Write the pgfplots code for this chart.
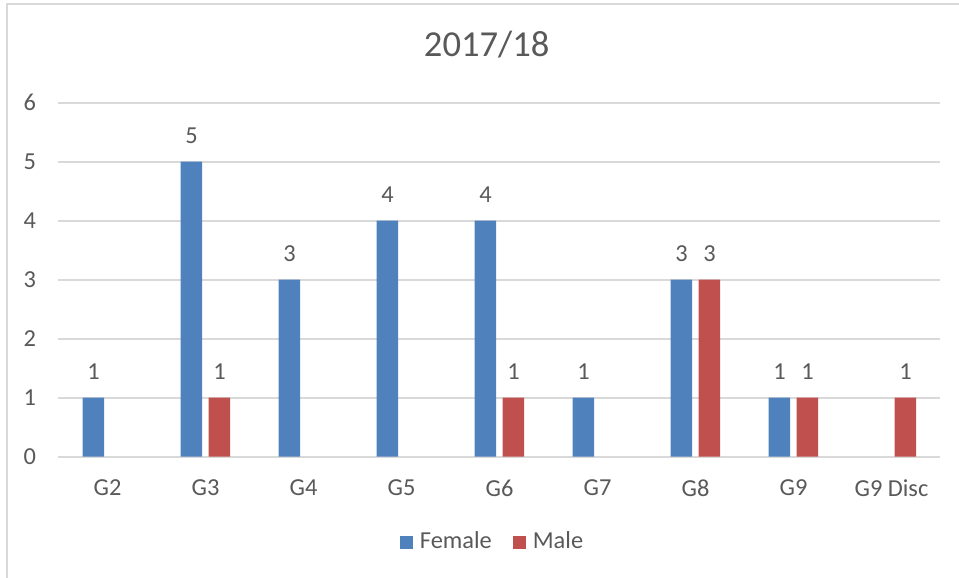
\documentclass[border=0pt]{standalone}
\usepackage{fontspec}
\setmainfont{Carlito}
\usepackage{pgfplots}
\pgfplotsset{compat=1.18}
\definecolor{fblue}{HTML}{4F81BD}
\definecolor{mred}{HTML}{C0504D}
\definecolor{textgray}{HTML}{595959}
\definecolor{gridgray}{HTML}{D9D9D9}
\begin{document}
\begin{tikzpicture}
\path[use as bounding box] (0,0) rectangle (479.5pt,289pt);
\draw[gridgray, line width=1pt] (3.5pt,0) -- (3.5pt,287pt) -- (479.5pt,287pt);
\node[anchor=base, text=textgray, font=\fontsize{18.3}{22}\selectfont] at (243.35pt,260.65pt) {2017/18};
\begin{axis}[
  at={(29.25pt,60.65pt)}, anchor=south west,
  scale only axis, width=441pt, height=177pt,
  xmin=-0.5, xmax=8.5, ymin=0, ymax=6,
  ytick={0,1,2,3,4,5,6},
  xtick={0,1,2,3,4,5,6,7,8},
  xticklabels={G2,G3,G4,G5,G6,G7,G8,G9,G9 Disc},
  axis line style={draw=none},
  major tick length=0pt,
  ymajorgrids, grid style={gridgray, line width=1pt},
  /pgf/number format/assume math mode=true,
  tick label style={font=\fontsize{12.2}{14}\selectfont, text=textgray},
  yticklabel style={inner sep=0pt, anchor=east, xshift=-11pt},
  xticklabel style={inner sep=0pt, anchor=north, yshift=-11.5pt},
  ybar, bar width=10.75pt,
  nodes near coords,
  every node near coord/.append style={font=\fontsize{12.2}{14}\selectfont, text=textgray, anchor=base, yshift=9pt, inner sep=0pt},
  legend columns=-1,
  legend style={at={(0.491,-0.241)}, anchor=center, draw=none, fill=none,
    font=\fontsize{12.2}{14}\selectfont, text=textgray,
    nodes={inner xsep=0pt},
    /tikz/every odd column/.append style={column sep=3.5pt},
    /tikz/every even column/.append style={column sep=10.5pt}},
  legend image code/.code={\fill[#1] (0pt,-3.25pt) rectangle (6.5pt,3.25pt);},
  clip=false
]
\addplot[fill=fblue, draw=none, bar shift=-7pt] coordinates {(0,1) (1,5) (2,3) (3,4) (4,4) (5,1) (6,3) (7,1)};
\addlegendentry{Female}
\addplot[fill=mred, draw=none, bar shift=7pt] coordinates {(1,1) (4,1) (6,3) (7,1) (8,1)};
\addlegendentry{Male}
\end{axis}
\end{tikzpicture}
\end{document}
